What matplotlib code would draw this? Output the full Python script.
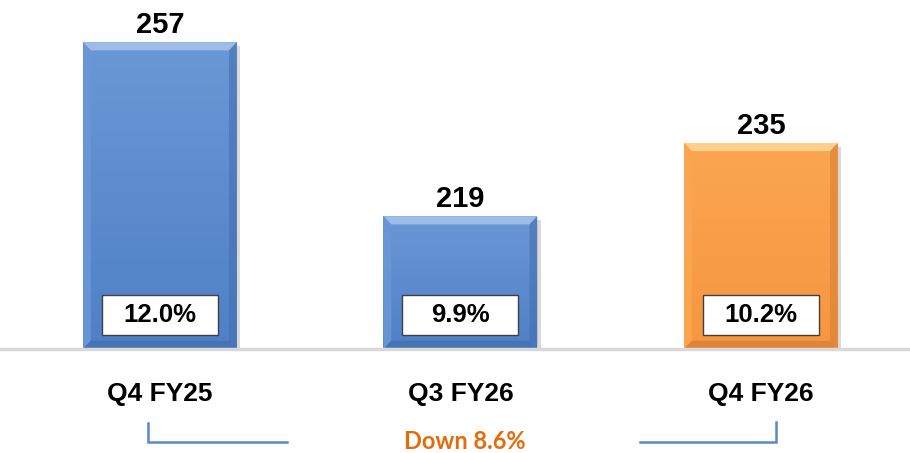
import matplotlib.pyplot as plt
import matplotlib.transforms as mtransforms
from matplotlib.patches import Rectangle, Polygon
import numpy as np

# data
quarters = ["Q4 FY25", "Q3 FY26", "Q4 FY26"]
values = [257, 219, 235]
margins = ["12.0%", "9.9%", "10.2%"]
change_label = "Down 8.6%"

# styles: (face top, face bottom, light bevel, dark bevel)
blue = ("#6A98D6", "#4F80C6", "#9DBDE8", "#4470B0")
orange = ("#FBA652", "#F69640", "#FDD08E", "#D98034")
bar_styles = [blue, blue, orange]

plt.rcParams['font.family'] = ['Liberation Sans', 'DejaVu Sans']

fig = plt.figure(figsize=(9.1, 4.53), dpi=100)
ax = fig.add_axes([0, 0.2296, 1, 0.7704])
ymin = 190
ax.set_xlim(-0.532, 2.496)
ax.set_ylim(ymin, 266.2)
for s in ax.spines.values():
    s.set_visible(False)
ax.set_yticks([])

x = np.arange(len(quarters))
w = 0.512
bx, by = 0.026, 1.8   # bevel size in data units

# shadows first
for xi, v in zip(x, values):
    ax.add_patch(Rectangle((xi - w / 2 + 0.012, ymin), w, v - ymin - 0.8,
                           facecolor="#000000", alpha=0.15, lw=0, zorder=1))

bars = ax.bar(x, [v - ymin for v in values], bottom=ymin, width=w,
              color=[s[0] for s in bar_styles], lw=0, zorder=2)

for b, st in zip(bars, bar_styles):
    x0, y0 = b.get_x(), b.get_y()
    x1, y1 = x0 + b.get_width(), y0 + b.get_height()
    # gradient face
    c_top = np.array(plt.matplotlib.colors.to_rgb(st[0]))
    c_bot = np.array(plt.matplotlib.colors.to_rgb(st[1]))
    t = np.linspace(0, 1, 100)[:, None]
    grad = (c_top * (1 - t) + c_bot * t)[:, None, :]
    im = ax.imshow(grad, extent=(x0, x1, y0, y1), aspect='auto', origin='upper', zorder=3)
    im.set_clip_path(b)
    # bevels
    light, dark = st[2], st[3]
    ax.add_patch(Polygon([(x0, y1), (x1, y1), (x1 - bx, y1 - by), (x0 + bx, y1 - by)],
                         closed=True, facecolor=light, lw=0, zorder=4))
    ax.add_patch(Polygon([(x0, y1), (x0 + bx, y1 - by), (x0 + bx, y0 + by), (x0, y0)],
                         closed=True, facecolor=st[0], lw=0, alpha=0.9, zorder=4))
    ax.add_patch(Polygon([(x1, y1), (x1 - bx, y1 - by), (x1 - bx, y0 + by), (x1, y0)],
                         closed=True, facecolor=dark, lw=0, alpha=0.6, zorder=4))
    ax.add_patch(Polygon([(x0, y0), (x0 + bx, y0 + by), (x1 - bx, y0 + by), (x1, y0)],
                         closed=True, facecolor=dark, lw=0, alpha=0.8, zorder=4))

# baseline
ax.axhline(ymin, color="#D9D9D9", lw=2.5, zorder=5, clip_on=False)

# value labels
for xi, v in zip(x, values):
    ax.annotate(str(v), (xi, v), xytext=(0, 6.5), textcoords="offset points",
                ha="center", va="baseline", fontsize=21, fontweight="bold", zorder=6)

# margin boxes
bw = 0.386
for xi, m in zip(x, margins):
    ax.add_patch(Rectangle((xi - bw / 2, 193.06), bw, 8.74, facecolor="white",
                           edgecolor="#404040", lw=1.0, zorder=6))
    ax.text(xi, 197.43, m, ha="center", va="center", fontsize=18.5,
            fontweight="bold", zorder=7)

# category labels
ax.set_xticks(x)
ax.set_xticklabels(quarters, fontsize=19, fontweight="bold")
ax.tick_params(axis="x", length=0, pad=24)

# bracket
trans = mtransforms.blended_transform_factory(ax.transData, fig.transFigure)
bc = "#5A88C8"
ax.plot([x[0] - 0.04, x[0] - 0.04, 0.423], [0.066, 0.024, 0.024], color=bc, lw=1.8,
        transform=trans, clip_on=False, solid_joinstyle="miter")
ax.plot([1.598, x[2] + 0.05, x[2] + 0.05], [0.024, 0.024, 0.068], color=bc, lw=1.8,
        transform=trans, clip_on=False, solid_joinstyle="miter")
ax.text(1.015, 0.026, change_label, transform=trans, ha="center", va="center",
        fontsize=17, fontweight="bold", color="#E46C0A", family=["Lato", "DejaVu Sans"])

fig.savefig("out.png", dpi=100)
